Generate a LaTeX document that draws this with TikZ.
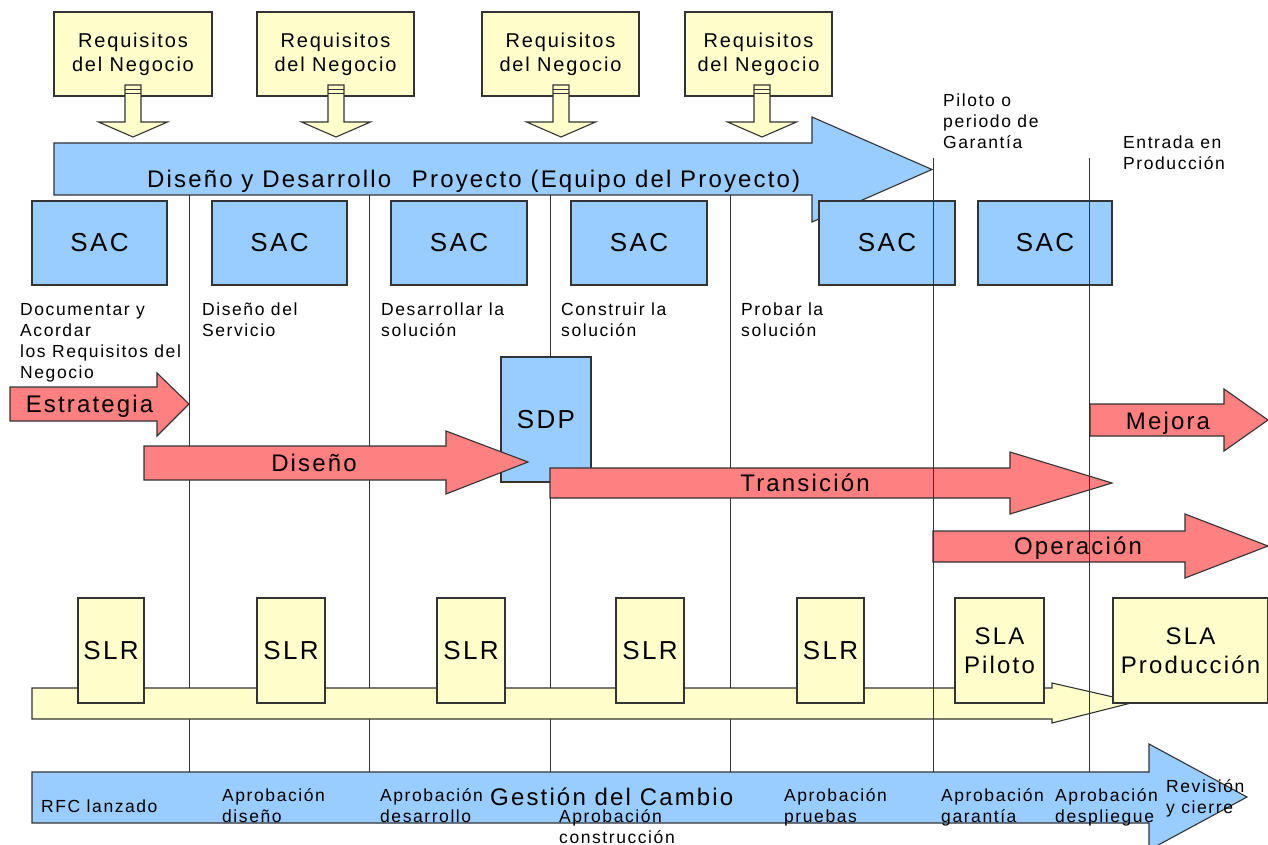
\documentclass[tikz,border=0pt]{standalone}
\usepackage{fontspec}
\setmainfont{Liberation Sans}[LetterSpace=9]
\definecolor{cblue}{HTML}{99CCFF}
\definecolor{cred}{HTML}{FF8080}
\definecolor{cyel}{HTML}{FFFFCC}
\definecolor{ink}{HTML}{333333}

% font sizes (1pt = 1 unit of the drawing)
\newcommand\fsmall{\fontsize{17.5}{21}\selectfont}
\newcommand\freq{\fontsize{20}{24}\selectfont}
\newcommand\fbig{\fontsize{24}{29}\selectfont}
\newcommand\fsac{\fontsize{26}{30}\selectfont}

% block arrow pointing right:
% #1 style, #2 tail x, #3 head base x, #4 tip x,
% #5 body top y, #6 body bottom y, #7 head top y, #8 head bottom y, #9 tip y
\newcommand\blockarrow[9]{%
  \draw[#1] (#2,#5) -- (#3,#5) -- (#3,#7) -- (#4,#9) -- (#3,#8) -- (#3,#6) -- (#2,#6) -- cycle;}

% small downward arrow below a requirements box, centred at x = #1
\newcommand\reqarrow[1]{%
  \draw[yelfill] ({#1-8},85) -- ({#1+8},85) -- ({#1+8},122) -- ({#1+34.5},122)
     -- (#1,137) -- ({#1-34.5},122) -- ({#1-8},122) -- cycle;
  \draw[ink, line width=1pt] ({#1-8},89.5) -- ({#1+8},89.5);
  \draw[ink, line width=1pt] ({#1-8},94) -- ({#1+8},94);}

\begin{document}
\begin{tikzpicture}[x=1pt,y=-1pt,
  outl/.style={draw=ink, line width=1.1pt},
  bluefill/.style={outl, fill=cblue},
  redfill/.style={outl, fill=cred},
  yelfill/.style={outl, fill=cyel},
  vline/.style={draw=ink, line width=1pt},
  boxtext/.style={inner sep=0pt, align=center, text=black},
  reqbox/.style={yelfill, boxtext, minimum height=84pt, font=\freq},
  sacbox/.style={bluefill, boxtext, minimum height=84pt, font=\fsac},
  slrbox/.style={yelfill, boxtext, minimum height=105pt, font=\fsac},
  slabox/.style={yelfill, boxtext, minimum height=105pt, font=\fbig},
  phase/.style={inner sep=0pt, align=left, anchor=north west, font=\fsmall, text=black},
  biglabel/.style={inner sep=0pt, font=\fbig, text=black},
]
\useasboundingbox (0,0) rectangle (1268,845);
\clip (0,0) rectangle (1268,845);
\fill[white] (0,0) rectangle (1268,845);

% phase separators (lower layer)
\foreach \x in {189,369,550,730} \draw[vline] (\x,195) -- (\x,772);

% business requirements
\node[reqbox, minimum width=158pt] (r1) at (133,54)   {Requisitos\\del Negocio};
\node[reqbox, minimum width=157pt] (r2) at (335.5,54) {Requisitos\\del Negocio};
\node[reqbox, minimum width=157pt] (r3) at (560.5,54) {Requisitos\\del Negocio};
\node[reqbox, minimum width=147pt] (r4) at (758.5,54) {Requisitos\\del Negocio};
\reqarrow{133}
\reqarrow{336}
\reqarrow{561}
\reqarrow{762}

% project arrow
\blockarrow{bluefill}{54}{812}{932}{143}{195}{117}{222}{169.5}
\node[biglabel, anchor=base west] (proj) at (147,187)
  {Diseño y Desarrollo\hspace{12pt} Proyecto (Equipo del Proyecto)};

% SAC boxes
\node[sacbox, minimum width=135pt] (sac1) at (99.5,243) {SAC};
\node[sacbox, minimum width=135pt] (sac2) at (279.5,243) {SAC};
\node[sacbox, minimum width=136pt] (sac3) at (459,243) {SAC};
\node[sacbox, minimum width=136pt] (sac4) at (639,243) {SAC};
\node[sacbox, minimum width=136pt] (sac5) at (887,243) {SAC};
\node[sacbox, minimum width=134pt] (sac6) at (1045,243) {SAC};

% SDP
\node[sacbox, minimum width=90pt, minimum height=125pt] (sdp) at (546,419.5) {SDP};

% lifecycle stages
\blockarrow{redfill}{10}{157}{189}{387}{421}{373}{436}{404}
\node[biglabel, anchor=base] (estr) at (89.5,412) {Estrategia};
\blockarrow{redfill}{144}{446}{528}{446}{480}{431}{494}{462}
\node[biglabel, anchor=base] (dis) at (314,471) {Diseño};
\blockarrow{redfill}{550}{1010}{1112}{468}{498}{452}{514}{483}
\node[biglabel, anchor=base] (tran) at (805,491) {Transición};
\blockarrow{redfill}{1090}{1224}{1268}{404}{436}{389}{451}{420}
\node[biglabel, anchor=base] (mej) at (1168,429) {Mejora};
\blockarrow{redfill}{933}{1185}{1268}{531}{562}{514}{578}{546}
\node[biglabel, anchor=base] (oper) at (1078,554) {Operación};

% service level arrow and boxes
\blockarrow{yelfill}{32}{1052}{1135}{688}{719}{683}{723}{702}
\node[slrbox, minimum width=66pt] (slr1) at (111,650.5) {SLR};
\node[slrbox, minimum width=68pt] (slr2) at (291,650.5) {SLR};
\node[slrbox, minimum width=68pt] (slr3) at (471,650.5) {SLR};
\node[slrbox, minimum width=68pt] (slr4) at (650,650.5) {SLR};
\node[slrbox, minimum width=67pt] (slr5) at (830.5,650.5) {SLR};
\node[slabox, minimum width=89pt] (slap) at (999.5,650.5) {SLA\\Piloto};
\node[slabox, minimum width=155pt] (slaq) at (1190.5,650.5) {SLA\\Producción};

% change management arrow
\blockarrow{bluefill}{32}{1149}{1247}{772}{823}{744}{850}{797}

% warranty and production separators (upper layer)
\foreach \x in {933,1089} \draw[vline] (\x,158) -- (\x,772);

% phase descriptions
\node[phase] (p1) at (20,303)  {Documentar y\\Acordar\\los Requisitos del\\Negocio};
\node[phase] (p2) at (202,303) {Diseño del\\Servicio};
\node[phase] (p3) at (381,303) {Desarrollar la\\solución};
\node[phase] (p4) at (561,303) {Construir la\\solución};
\node[phase] (p5) at (741,303) {Probar la\\solución};
\node[phase] (p6) at (943,94)  {Piloto o\\periodo de\\Garantía};
\node[phase] (p7) at (1123,136) {Entrada en\\Producción};

% change management milestones
\node[biglabel, anchor=base west] (gest) at (490,805) {Gestión del Cambio};
\node[phase] (m1) at (41,800)   {RFC lanzado};
\node[phase] (m2) at (222,788)  {Aprobación\\diseño};
\node[phase] (m3) at (380,788)  {Aprobación\\desarrollo};
\node[phase] (m4) at (559,809)  {Aprobación\\construcción};
\node[phase] (m5) at (784,788)  {Aprobación\\pruebas};
\node[phase] (m6) at (941,788)  {Aprobación\\garantía};
\node[phase] (m7) at (1055,788) {Aprobación\\despliegue};
\node[phase] (m8) at (1166,779) {Revisión\\y cierre};
\end{tikzpicture}
\end{document}
